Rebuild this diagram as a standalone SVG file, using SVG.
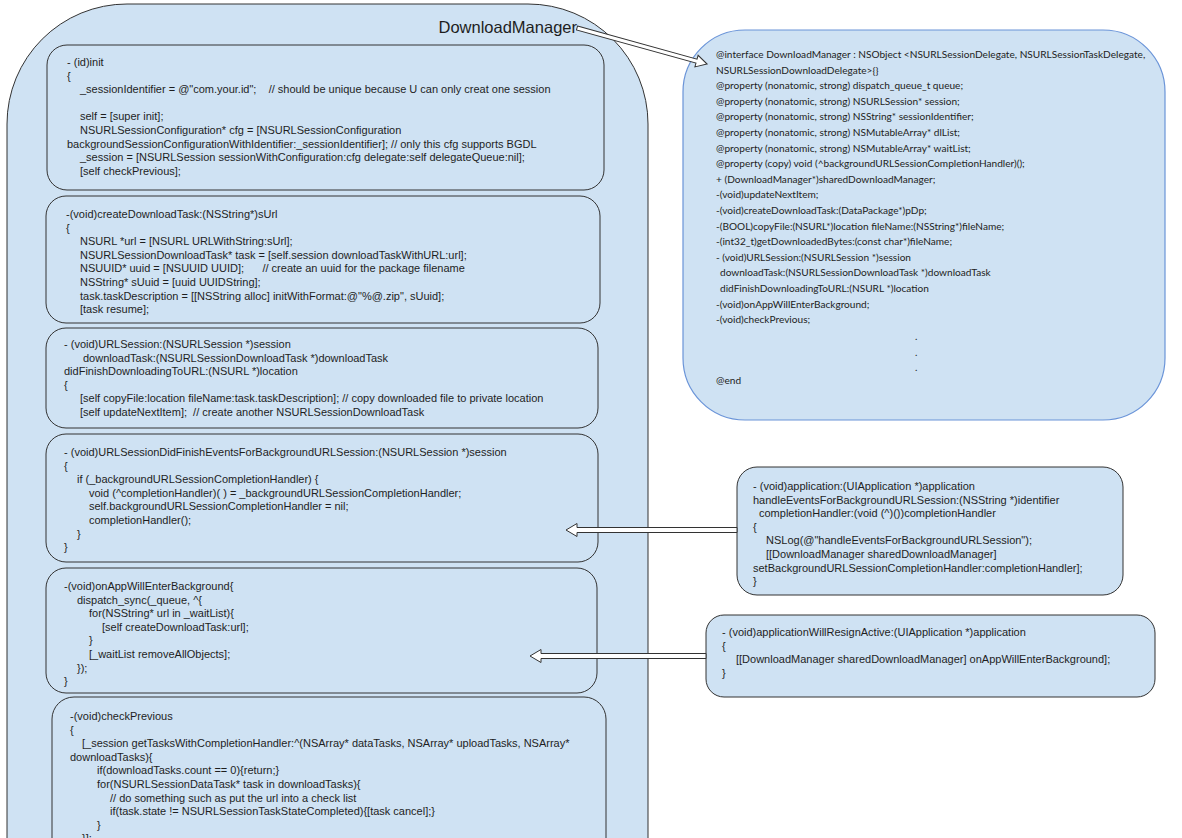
<svg xmlns="http://www.w3.org/2000/svg" width="1182" height="838" viewBox="0 0 1182 838" xml:space="preserve">
<style>
.bg{fill:#ffffff}
.box{fill:#cfe2f3;stroke:#333333;stroke-width:1}
.ibox{fill:#cfe2f3;stroke:#6a94d8;stroke-width:1.2}
.code{font-family:"Liberation Sans",Arial,sans-serif;font-size:11px;fill:#1e1e1e;white-space:pre}
.cal{font-family:Lato,"Liberation Sans",sans-serif;font-size:10.1px;fill:#222222;white-space:pre}
.title{font-family:"Liberation Sans",Arial,sans-serif;font-size:16.5px;fill:#1e1e1e}
.arrow{fill:#ffffff;stroke:#333333;stroke-width:1;stroke-linejoin:miter}
</style>
<rect class="bg" x="0" y="0" width="1182" height="838"/>
<g id="DownloadManager">
<rect class="box" x="7" y="4" width="641" height="960" rx="120" ry="120"/>
<text class="title" x="577" y="33" text-anchor="end">DownloadManager</text>
</g>
<g id="init">
<rect class="box" x="47" y="45" width="557" height="145" rx="20" ry="20"/>
<text class="code" x="67" y="66">- (id)init</text>
<text class="code" x="67" y="79.6">{</text>
<text class="code" x="80" y="93.2">_sessionIdentifier = @"com.your.id";    // should be unique because U can only creat one session</text>
<text class="code" x="80" y="120.4">self = [super init];</text>
<text class="code" x="80" y="134">NSURLSessionConfiguration* cfg = [NSURLSessionConfiguration</text>
<text class="code" x="67" y="147.6">backgroundSessionConfigurationWithIdentifier:_sessionIdentifier]; // only this cfg supports BGDL</text>
<text class="code" x="80" y="161.2">_session = [NSURLSession sessionWithConfiguration:cfg delegate:self delegateQueue:nil];</text>
<text class="code" x="80" y="174.8">[self checkPrevious];</text>
</g>
<g id="createDownloadTask">
<rect class="box" x="46" y="196" width="554" height="127" rx="20" ry="20"/>
<text class="code" x="66" y="218">-(void)createDownloadTask:(NSString*)sUrl</text>
<text class="code" x="66" y="231.6">{</text>
<text class="code" x="80" y="245.2">NSURL *url = [NSURL URLWithString:sUrl];</text>
<text class="code" x="80" y="258.8">NSURLSessionDownloadTask* task = [self.session downloadTaskWithURL:url];</text>
<text class="code" x="80" y="272.4">NSUUID* uuid = [NSUUID UUID];      // create an uuid for the package filename</text>
<text class="code" x="80" y="286">NSString* sUuid = [uuid UUIDString];</text>
<text class="code" x="80" y="299.6">task.taskDescription = [[NSString alloc] initWithFormat:@"%@.zip", sUuid];</text>
<text class="code" x="80" y="313.2">[task resume];</text>
</g>
<g id="didFinishDownloading">
<rect class="box" x="46" y="328" width="552" height="100" rx="20" ry="20"/>
<text class="code" x="64" y="348">- (void)URLSession:(NSURLSession *)session</text>
<text class="code" x="83" y="361.6">downloadTask:(NSURLSessionDownloadTask *)downloadTask</text>
<text class="code" x="64" y="375.2">didFinishDownloadingToURL:(NSURL *)location</text>
<text class="code" x="64" y="388.8">{</text>
<text class="code" x="80" y="402.4">[self copyFile:location fileName:task.taskDescription]; // copy downloaded file to private location</text>
<text class="code" x="80" y="416">[self updateNextItem];  // create another NSURLSessionDownloadTask</text>
</g>
<g id="didFinishEvents">
<rect class="box" x="46" y="434" width="552" height="128" rx="20" ry="20"/>
<text class="code" x="64" y="456">- (void)URLSessionDidFinishEventsForBackgroundURLSession:(NSURLSession *)session</text>
<text class="code" x="64" y="469.6">{</text>
<text class="code" x="77" y="483.2">if (_backgroundURLSessionCompletionHandler) {</text>
<text class="code" x="89" y="496.8">void (^completionHandler)( ) = _backgroundURLSessionCompletionHandler;</text>
<text class="code" x="89" y="510.4">self.backgroundURLSessionCompletionHandler = nil;</text>
<text class="code" x="89" y="524">completionHandler();</text>
<text class="code" x="77" y="537.6">}</text>
<text class="code" x="64" y="551.2">}</text>
</g>
<g id="onAppWillEnterBackground">
<rect class="box" x="46" y="568" width="551" height="125" rx="20" ry="20"/>
<text class="code" x="64" y="590">-(void)onAppWillEnterBackground{</text>
<text class="code" x="77" y="603.6">dispatch_sync(_queue, ^{</text>
<text class="code" x="89" y="617.2">for(NSString* url in _waitList){</text>
<text class="code" x="102" y="630.8">[self createDownloadTask:url];</text>
<text class="code" x="89" y="644.4">}</text>
<text class="code" x="89" y="658">[_waitList removeAllObjects];</text>
<text class="code" x="77" y="671.6">});</text>
<text class="code" x="64" y="685.2">}</text>
</g>
<g id="checkPrevious">
<rect class="box" x="52" y="697" width="554" height="220" rx="22" ry="22"/>
<text class="code" x="70" y="720">-(void)checkPrevious</text>
<text class="code" x="70" y="733.6">{</text>
<text class="code" x="82" y="747.2">[_session getTasksWithCompletionHandler:^(NSArray* dataTasks, NSArray* uploadTasks, NSArray*</text>
<text class="code" x="70" y="760.8">downloadTasks){</text>
<text class="code" x="97" y="774.4">if(downloadTasks.count == 0){return;}</text>
<text class="code" x="97" y="788">for(NSURLSessionDataTask* task in downloadTasks){</text>
<text class="code" x="110" y="801.6">// do something such as put the url into a check list</text>
<text class="code" x="110" y="815.2">if(task.state != NSURLSessionTaskStateCompleted){[task cancel];}</text>
<text class="code" x="97" y="828.8">}</text>
<text class="code" x="82" y="842.4">}];</text>
</g>
<g id="interface">
<rect class="ibox" x="683" y="30" width="482" height="390" rx="62" ry="62"/>
<text class="cal" x="716" y="58">@interface DownloadManager : NSObject &lt;NSURLSessionDelegate, NSURLSessionTaskDelegate,</text>
<text class="cal" x="716" y="73.6">NSURLSessionDownloadDelegate&gt;{}</text>
<text class="cal" x="716" y="89.2">@property (nonatomic, strong) dispatch_queue_t queue;</text>
<text class="cal" x="716" y="104.8">@property (nonatomic, strong) NSURLSession* session;</text>
<text class="cal" x="716" y="120.4">@property (nonatomic, strong) NSString* sessionIdentifier;</text>
<text class="cal" x="716" y="136">@property (nonatomic, strong) NSMutableArray* dlList;</text>
<text class="cal" x="716" y="151.6">@property (nonatomic, strong) NSMutableArray* waitList;</text>
<text class="cal" x="716" y="167.2">@property (copy) void (^backgroundURLSessionCompletionHandler)();</text>
<text class="cal" x="716" y="182.8">+ (DownloadManager*)sharedDownloadManager;</text>
<text class="cal" x="716" y="198.4">-(void)updateNextItem;</text>
<text class="cal" x="716" y="214">-(void)createDownloadTask:(DataPackage*)pDp;</text>
<text class="cal" x="716" y="229.6">-(BOOL)copyFile:(NSURL*)location fileName:(NSString*)fileName;</text>
<text class="cal" x="716" y="245.2">-(int32_t)getDownloadedBytes:(const char*)fileName;</text>
<text class="cal" x="716" y="260.8">- (void)URLSession:(NSURLSession *)session</text>
<text class="cal" x="720" y="276.4">downloadTask:(NSURLSessionDownloadTask *)downloadTask</text>
<text class="cal" x="720" y="292">didFinishDownloadingToURL:(NSURL *)location</text>
<text class="cal" x="716" y="307.6">-(void)onAppWillEnterBackground;</text>
<text class="cal" x="716" y="323.2">-(void)checkPrevious;</text>
<text class="cal" x="915" y="340">.</text>
<text class="cal" x="915" y="355.5">.</text>
<text class="cal" x="915" y="370.5">.</text>
<text class="cal" x="716" y="383.5">@end</text>
</g>
<g id="handleEvents">
<rect class="box" x="737" y="467" width="386" height="128" rx="20" ry="20"/>
<text class="code" x="753" y="490">- (void)application:(UIApplication *)application</text>
<text class="code" x="753" y="503.6">handleEventsForBackgroundURLSession:(NSString *)identifier</text>
<text class="code" x="759" y="517.2">completionHandler:(void (^)())completionHandler</text>
<text class="code" x="753" y="530.8">{</text>
<text class="code" x="766" y="544.4">NSLog(@"handleEventsForBackgroundURLSession");</text>
<text class="code" x="766" y="558">[[DownloadManager sharedDownloadManager]</text>
<text class="code" x="753" y="571.6">setBackgroundURLSessionCompletionHandler:completionHandler];</text>
<text class="code" x="753" y="585.2">}</text>
</g>
<g id="applicationWillResignActive">
<rect class="box" x="706" y="615" width="449" height="82" rx="18" ry="18"/>
<text class="code" x="722" y="636">- (void)applicationWillResignActive:(UIApplication *)application</text>
<text class="code" x="722" y="649.6">{</text>
<text class="code" x="736" y="663.2">[[DownloadManager sharedDownloadManager] onAppWillEnterBackground];</text>
<text class="code" x="722" y="676.8">}</text>
</g>
<g id="connectors">
<polygon class="arrow" transform="translate(577,28) rotate(15.48)" points="0,-2 124,-2 124,-6 135,0 124,6 124,2 0,2"/>
<polygon class="arrow" points="737,527.5 577,527.5 577,523.5 566,530 577,536.5 577,532.5 737,532.5"/>
<polygon class="arrow" points="706,653.5 541,653.5 541,649.5 530,656 541,662.5 541,658.5 706,658.5"/>
</g>
</svg>
